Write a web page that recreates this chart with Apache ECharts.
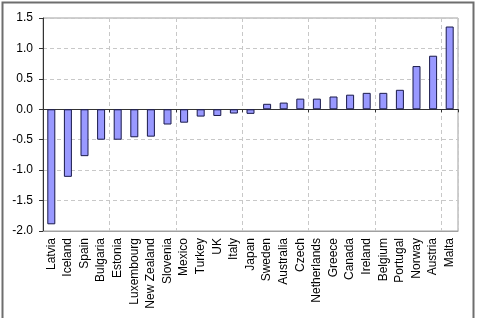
<!DOCTYPE html>
<html>
<head>
<meta charset="utf-8">
<script src="https://cdn.jsdelivr.net/npm/echarts@6/dist/echarts.min.js"></script>
<style>
	html, body { margin: 0; padding: 0; background: #fff; }
	#chart { width: 478px; height: 318px; }
</style>
</head>
<body>
<div id="chart"></div>
<script>
	'use strict'
	var countries = ['Latvia', 'Iceland', 'Spain', 'Bulgaria', 'Estonia', 'Luxembourg', 'New Zealand', 'Slovenia', 'Mexico', 'Turkey', 'UK', 'Italy', 'Japan', 'Sweden', 'Australia', 'Czech', 'Netherlands', 'Greece', 'Canada', 'Ireland', 'Belgium', 'Portugal', 'Norway', 'Austria', 'Malta'];
	var values = [-1.89, -1.11, -0.77, -0.50, -0.50, -0.46, -0.45, -0.25, -0.22, -0.12, -0.11, -0.07, -0.075, 0.09, 0.11, 0.175, 0.175, 0.21, 0.24, 0.27, 0.27, 0.32, 0.71, 0.88, 1.36];
	var yMin = -2.0, yMax = 1.5, yStep = 0.5;

	/*----Bar chart----*/
	var chart = echarts.init(document.getElementById('chart'));
	var font = 'Liberation Sans, Arial, sans-serif';
	var option = {
		animation: false,
		grid: {
			top: 18,
			right: 20,
			bottom: 87,
			left: 43,
			show: true,
			borderColor: '#a0a0a0',
			borderWidth: 1
		},
		graphic: [{
			type: 'rect',
			shape: { x: 2.5, y: 2.5, width: 471, height: 330 },
			style: { fill: 'none', stroke: '#6e6e6e', lineWidth: 2 },
			silent: true
		}],
		xAxis: [{
			type: 'category',
			data: countries,
			position: 'bottom',
			axisLine: { onZero: false, lineStyle: { color: '#a0a0a0' } },
			axisTick: { show: false },
			splitLine: {
				show: true,
				interval: 3,
				lineStyle: { color: '#c8c8c8', type: [4, 3] }
			},
			axisLabel: {
				rotate: 90,
				interval: 0,
				margin: 7,
				fontSize: 12,
				fontFamily: font,
				color: '#000'
			}
		}, {
			type: 'category',
			data: countries,
			position: 'bottom',
			axisLine: { onZero: true, lineStyle: { color: '#333', width: 1 } },
			axisTick: { show: true, interval: 3, length: 3, lineStyle: { color: '#333' } },
			axisLabel: { show: false },
			splitLine: { show: false }
		}],
		yAxis: {
			type: 'value',
			min: yMin,
			max: yMax,
			interval: yStep,
			axisLine: { show: true, lineStyle: { color: '#333' } },
			axisTick: { show: true, length: 4, lineStyle: { color: '#333' } },
			splitLine: { lineStyle: { color: '#c8c8c8', type: [4, 3] } },
			axisLabel: {
				margin: 10,
				fontSize: 12,
				fontFamily: font,
				color: '#000',
				formatter: function(v) { return v.toFixed(1); }
			}
		},
		series: [{
			name: 'value',
			type: 'bar',
			xAxisIndex: 0,
			data: values,
			barWidth: 8,
			itemStyle: {
				color: '#9999ff',
				borderColor: '#1a1a4a',
				borderWidth: 1
			}
		}]
	};
	chart.setOption(option);
</script>
</body>
</html>
